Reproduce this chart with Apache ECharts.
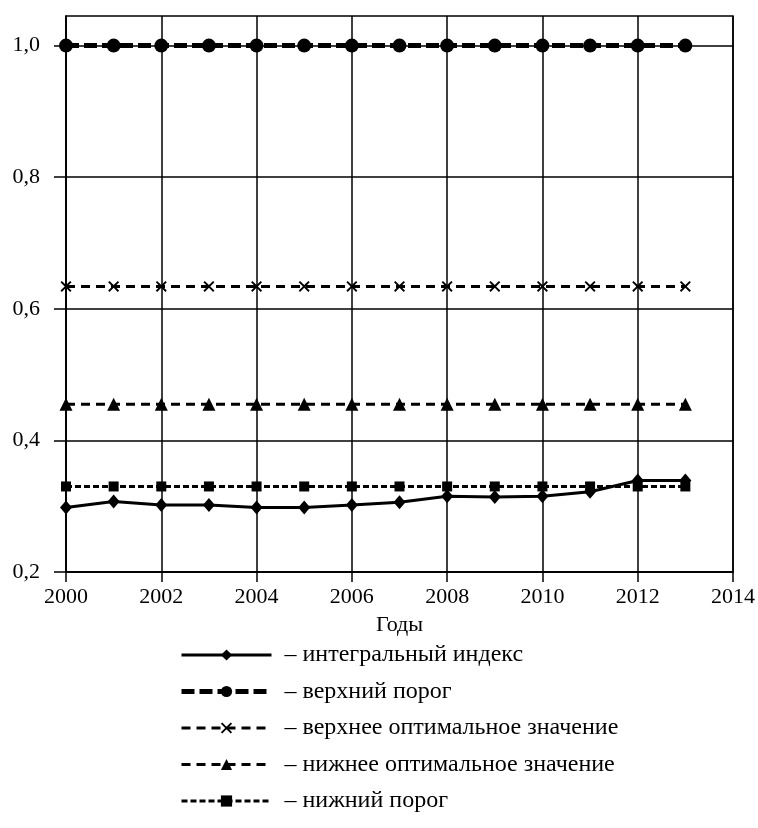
<!DOCTYPE html>
<html><head><meta charset="utf-8">
<script src="https://cdn.jsdelivr.net/npm/echarts@6/dist/echarts.min.js"></script>
<style>html,body{margin:0;padding:0;background:#fff}#c{width:758px;height:828px}</style>
</head><body><div id="c"></div>
<script>
const years = [2000,2001,2002,2003,2004,2005,2006,2007,2008,2009,2010,2011,2012,2013];
const integralIndex = [0.298,0.307,0.302,0.302,0.298,0.298,0.302,0.306,0.315,0.314,0.315,0.322,0.339,0.339];
const upperThreshold = [1.0,1.0,1.0,1.0,1.0,1.0,1.0,1.0,1.0,1.0,1.0,1.0,1.0,1.0];
const upperOptimal = [0.634,0.634,0.634,0.634,0.634,0.634,0.634,0.634,0.634,0.634,0.634,0.634,0.634,0.634];
const lowerOptimal = [0.455,0.455,0.455,0.455,0.455,0.455,0.455,0.455,0.455,0.455,0.455,0.455,0.455,0.455];
const lowerThreshold = [0.33,0.33,0.33,0.33,0.33,0.33,0.33,0.33,0.33,0.33,0.33,0.33,0.33,0.33];
const yTickValues = [0.2,0.4,0.6,0.8,1.0];
const seriesNames = ['интегральный индекс','верхний порог','верхнее оптимальное значение','нижнее оптимальное значение','нижний порог'];
const xAxisName = 'Годы';

const pair = arr => years.map((y,i)=>[y,arr[i]]);
const FONT = '"Liberation Serif","Times New Roman",serif';
const crossPath = 'path://M0,1.2L1.2,0L5,3.8L8.8,0L10,1.2L6.2,5L10,8.8L8.8,10L5,6.2L1.2,10L0,8.8L3.8,5Z';

const styles = {};
styles[seriesNames[0]] = {width:3,type:'solid'};
styles[seriesNames[1]] = {width:5,type:[13,5]};
styles[seriesNames[2]] = {width:3,type:[9,6]};
styles[seriesNames[3]] = {width:3,type:[9,6]};
styles[seriesNames[4]] = {width:3,type:[6,3]};

const chart = echarts.init(document.getElementById('c'), null, {renderer:'canvas'});
chart.setOption({
  animation:false,
  backgroundColor:'#fff',
  grid:{left:66,right:25,top:16,bottom:256,containLabel:false,show:true,borderColor:'#000',borderWidth:1.5,backgroundColor:'transparent'},
  xAxis:{type:'value',min:2000,max:2014,interval:2,
    name:xAxisName,nameLocation:'middle',nameGap:42,
    nameTextStyle:{fontFamily:FONT,fontSize:22,color:'#000'},
    axisLine:{show:true,onZero:false,lineStyle:{color:'#000',width:1.5}},
    axisTick:{show:true,inside:false,length:10,lineStyle:{color:'#000',width:1.5}},
    axisLabel:{fontFamily:FONT,fontSize:22,color:'#000',margin:14,formatter:v=>String(v)},
    splitLine:{show:true,lineStyle:{color:'#000',width:1.5}}},
  yAxis:{type:'value',min:0.2,max:1.045,interval:0.2,
    axisLine:{show:true,lineStyle:{color:'#000',width:1.5}},
    axisTick:{show:true,length:12,customValues:yTickValues,lineStyle:{color:'#000',width:1.5}},
    axisLabel:{fontFamily:FONT,fontSize:22,color:'#000',margin:26,customValues:yTickValues,
      formatter:v=>(Math.round(v*10)/10).toFixed(1).replace('.',',')},
    splitLine:{show:true,lineStyle:{color:'#000',width:1.5}}},
  legend:{orient:'vertical',left:174,top:638,itemWidth:90,itemHeight:14,itemGap:12.5,
    data:seriesNames.map(n=>({name:n,lineStyle:{color:'#000',width:styles[n].width,type:styles[n].type}})),
    formatter:n=>'– '+n,
    textStyle:{fontFamily:FONT,fontSize:24,color:'#000',padding:[0,0,0,8],lineHeight:24}},
  series:[
    {name:seriesNames[1],type:'line',data:pair(upperThreshold),symbol:'circle',symbolSize:14,
      itemStyle:{color:'#000'},lineStyle:Object.assign({color:'#000'},styles[seriesNames[1]]),z:2},
    {name:seriesNames[2],type:'line',data:pair(upperOptimal),symbol:crossPath,symbolSize:11,
      itemStyle:{color:'#000'},lineStyle:Object.assign({color:'#000'},styles[seriesNames[2]]),z:2},
    {name:seriesNames[3],type:'line',data:pair(lowerOptimal),symbol:'triangle',symbolSize:13,
      itemStyle:{color:'#000'},lineStyle:Object.assign({color:'#000'},styles[seriesNames[3]]),z:2},
    {name:seriesNames[4],type:'line',data:pair(lowerThreshold),symbol:'rect',symbolSize:10,
      itemStyle:{color:'#000'},lineStyle:Object.assign({color:'#000'},styles[seriesNames[4]]),z:2},
    {name:seriesNames[0],type:'line',data:pair(integralIndex),symbol:'diamond',symbolSize:[12,14],
      itemStyle:{color:'#000'},lineStyle:Object.assign({color:'#000'},styles[seriesNames[0]]),z:3}
  ]
});
</script></body></html>
